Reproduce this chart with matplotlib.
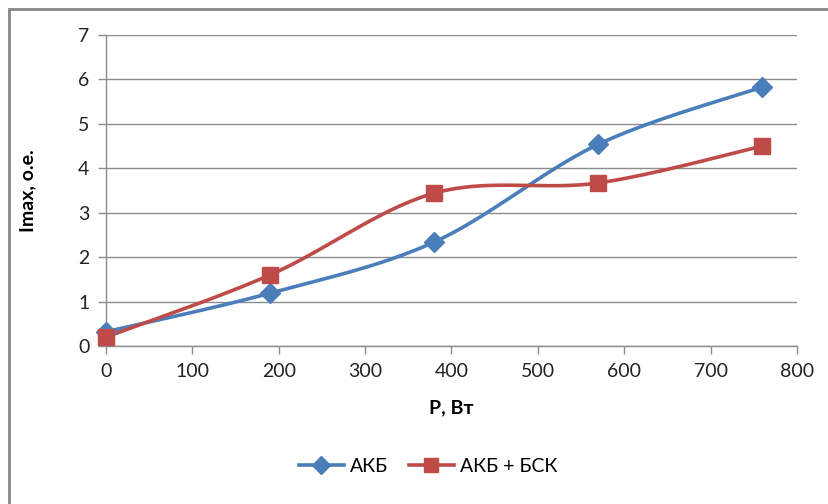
import numpy as np
import matplotlib
matplotlib.use("Agg")
import matplotlib.pyplot as plt
from matplotlib.patches import Rectangle
from matplotlib.lines import Line2D

plt.rcParams['font.family'] = ['Lato', 'DejaVu Sans']

power = [0, 190, 380, 570, 760]
akb = [0.32, 1.19, 2.34, 4.54, 5.83]
akb_bsk = [0.20, 1.60, 3.44, 3.67, 4.50]
x_ticks = [0, 100, 200, 300, 400, 500, 600, 700, 800]
y_ticks = [0, 1, 2, 3, 4, 5, 6, 7]

BLUE = '#4A7EBB'
RED = '#BE4B48'
GRID = '#8C8C8C'


def smooth(xs, ys, sx, sy, n=60):
    """Cardinal (Catmull-Rom) spline through the points, in scaled space."""
    p = np.column_stack([np.asarray(xs, float) / sx, np.asarray(ys, float) / sy])
    out = [p[0]]
    for i in range(len(p) - 1):
        p0 = p[i - 1] if i > 0 else p[i]
        p1, p2 = p[i], p[i + 1]
        p3 = p[i + 2] if i + 2 < len(p) else p[i + 1]
        c1 = p1 + (p2 - p0) / 6.0
        c2 = p2 - (p3 - p1) / 6.0
        t = np.linspace(0, 1, n)[1:, None]
        seg = ((1 - t) ** 3) * p1 + 3 * ((1 - t) ** 2) * t * c1 + 3 * (1 - t) * t ** 2 * c2 + t ** 3 * p2
        out.extend(seg)
    out = np.array(out)
    return out[:, 0] * sx, out[:, 1] * sy


fig = plt.figure(figsize=(8.29, 5.04), dpi=100)
fig.add_artist(Rectangle((9 / 829, -0.1), 2, (495 / 504) + 0.1, transform=fig.transFigure,
                         fill=False, edgecolor='#878787', linewidth=2))

ax = fig.add_axes([106 / 829, 1 - 346 / 504, (797 - 106) / 829, (346 - 35) / 504])
ax.set_xlim(0, 800)
ax.set_ylim(0, 7)
ax.set_xticks(x_ticks)
ax.set_yticks(y_ticks)
ax.grid(axis='y', color=GRID, linewidth=1)
ax.set_axisbelow(True)
for s in ('top', 'right'):
    ax.spines[s].set_visible(False)
for s in ('left', 'bottom'):
    ax.spines[s].set_color(GRID)
    ax.spines[s].set_linewidth(1)
ax.tick_params(axis='both', colors=GRID, length=6, width=1, labelsize=14,
               labelcolor='#222222', pad=6)

bx, by = smooth(power, akb, 800, 7)
rx, ry = smooth(power, akb_bsk, 800, 7)
ax.plot(bx, by, color=BLUE, linewidth=2.6, clip_on=False, zorder=3)
ax.plot(power, akb, linestyle='none', marker='D', markersize=10, color=BLUE,
        clip_on=False, zorder=4)
ax.plot(rx, ry, color=RED, linewidth=2.6, clip_on=False, zorder=3)
ax.plot(power, akb_bsk, linestyle='none', marker='s', markersize=12, color=RED,
        clip_on=False, zorder=4)

ax.set_xlabel('P, Вт', fontsize=14, fontweight='bold', labelpad=14)
ax.set_ylabel('Imax, o.e.', fontsize=14, fontweight='bold', labelpad=30)

handles = [
    Line2D([], [], color=BLUE, linewidth=2.6, marker='D', markersize=9),
    Line2D([], [], color=RED, linewidth=2.6, marker='s', markersize=10),
]
fig.legend(handles, ['АКБ', 'АКБ + БСК'], loc='center', bbox_to_anchor=(428 / 829, 1 - 466 / 504),
           ncol=2, frameon=False, fontsize=14, handlelength=2.3, columnspacing=1.1,
           handletextpad=0.3)

fig.savefig('out.png', dpi=100)
